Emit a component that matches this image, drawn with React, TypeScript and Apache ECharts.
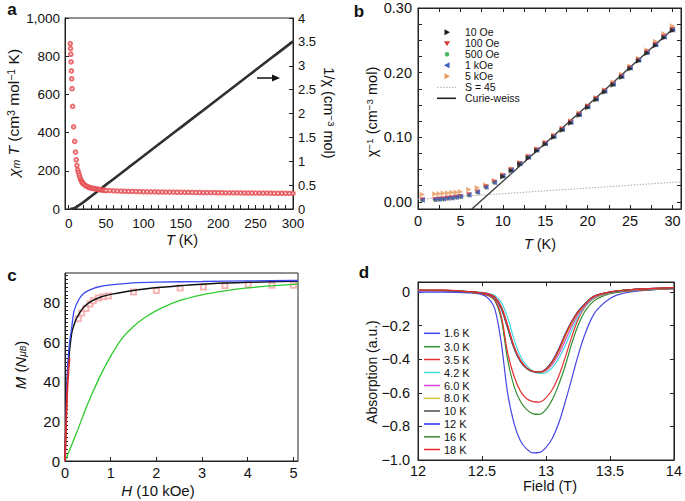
import React, { useEffect, useRef } from "react";
import * as echarts from "echarts";

const FONT = '"Liberation Sans", Arial, Helvetica, sans-serif';

// ---------------- Panel a ----------------
const aRedT = [2, 2.4, 2.8, 3.2, 3.6, 4, 4.5, 5.2, 6.5, 8, 9, 10, 11, 12, 13, 14, 15, 16, 17, 18, 19, 20, 22, 24, 26, 28, 30, 32, 34, 36, 38, 40, 42, 44, 46, 48, 50, 55, 60, 65, 70, 75, 80, 85, 90, 95, 100, 105, 110, 115, 120, 125, 130, 135, 140, 145, 150, 155, 160, 165, 170, 175, 180, 185, 190, 195, 200, 205, 210, 215, 220, 225, 230, 235, 240, 245, 250, 255, 260, 265, 270, 275, 280, 285, 290, 295, 300];
const aRedChiT = [866, 840, 810, 770, 723, 682, 630, 537, 430, 354, 298, 258, 228, 205, 192, 178, 165, 154, 146, 140, 135, 130, 124, 119, 115, 112, 110, 108, 106.5, 105, 104, 102.5, 101, 100, 99, 98, 97, 96, 95, 94, 93.5, 93, 92.5, 92, 91.5, 91, 90.5, 90, 89.8, 89.5, 89, 88.8, 88.5, 88.2, 88, 87.7, 87.5, 87.2, 87, 86.8, 86.5, 86.3, 86, 85.8, 85.6, 85.4, 85.2, 85, 84.8, 84.6, 84.5, 84.3, 84.1, 84, 83.8, 83.6, 83.5, 83.3, 83.1, 83, 82.8, 82.6, 82.5, 82.3, 82.2, 82.1, 82];
const aBlackT = [2, 3, 4, 5, 6, 7, 8, 9, 10, 12, 14, 16, 18, 20, 25, 30, 40, 50, 60, 70, 80, 90, 100, 110, 120, 130, 140, 150, 160, 170, 180, 190, 200, 210, 220, 230, 240, 250, 260, 270, 280, 290, 300];
const aInvChi = [0.004, 0.005, 0.006, 0.008, 0.012, 0.018, 0.024, 0.031, 0.04, 0.059, 0.08, 0.101, 0.123, 0.147, 0.207, 0.268, 0.389, 0.51, 0.63, 0.75, 0.871, 0.99, 1.11, 1.23, 1.35, 1.47, 1.59, 1.71, 1.83, 1.95, 2.07, 2.19, 2.31, 2.43, 2.55, 2.67, 2.79, 2.91, 3.03, 3.15, 3.27, 3.39, 3.51];
const aXLabels = [0, 50, 100, 150, 200, 250, 300];
const aLeftLabels = [0, 200, 400, 600, 800, 1000];
const aRightLabels = [0, 0.5, 1, 1.5, 2, 2.5, 3, 3.5, 4];

// ---------------- Panel b ----------------
const bT = [0.5, 2, 2.5, 3, 3.5, 4, 4.5, 5, 6, 7, 8, 9, 10, 11, 12, 13, 14, 15, 16, 17, 18, 19, 20, 21, 22, 23, 24, 25, 26, 27, 28, 29, 30];
const b5k = [0.0113, 0.0124, 0.0126, 0.0134, 0.0139, 0.0144, 0.0149, 0.0155, 0.019, 0.022, 0.026, 0.033, 0.042, 0.051, 0.061, 0.071, 0.082, 0.092, 0.103, 0.114, 0.125, 0.137, 0.149, 0.161, 0.173, 0.185, 0.197, 0.21, 0.222, 0.235, 0.248, 0.26, 0.272];
const b1k = [0.003, 0.0036, 0.004, 0.0046, 0.0057, 0.0062, 0.0072, 0.0082, 0.0108, 0.015, 0.0227, 0.03, 0.04, 0.049, 0.059, 0.069, 0.08, 0.09, 0.101, 0.112, 0.123, 0.135, 0.147, 0.159, 0.171, 0.182, 0.194, 0.207, 0.219, 0.231, 0.243, 0.255, 0.266];
const b500 = [0.0028, 0.0034, 0.0038, 0.0044, 0.0055, 0.006, 0.007, 0.008, 0.0105, 0.0148, 0.0225, 0.0298, 0.0398, 0.049, 0.059, 0.069, 0.08, 0.09, 0.101, 0.112, 0.123, 0.135, 0.147, 0.159, 0.171, 0.182, 0.194, 0.207, 0.219, 0.231, 0.243, 0.255, 0.266];
const b100 = [0.0029, 0.0035, 0.0039, 0.0045, 0.0056, 0.0061, 0.0071, 0.0081, 0.0106, 0.0149, 0.0226, 0.0299, 0.0399, 0.0492, 0.0592, 0.0692, 0.0802, 0.0902, 0.1012, 0.1122, 0.1232, 0.1352, 0.1472, 0.1592, 0.1712, 0.1822, 0.1942, 0.2072, 0.2192, 0.2312, 0.2432, 0.2552, 0.2665];
const b10T = [10, 11, 12, 13, 14, 15, 16, 17, 18, 19, 20, 21, 22, 23, 24, 25, 26, 27, 28, 29, 30];
const b10 = [0.039, 0.048, 0.058, 0.068, 0.079, 0.089, 0.1, 0.111, 0.122, 0.134, 0.146, 0.158, 0.17, 0.181, 0.193, 0.206, 0.218, 0.23, 0.242, 0.254, 0.265];
const bCurieT = [6.35, 30];
const bCurie = [-0.011, 0.267];
const bS45T = [0, 31];
const bS45 = [0.004, 0.031];
const bXLabels = [0, 5, 10, 15, 20, 25, 30];
const bYLabels = [0, 0.1, 0.2, 0.3];
const bLegend = ["10 Oe", "100 Oe", "500 Oe", "1 kOe", "5 kOe", "S = 45", "Curie-weiss"];

// ---------------- Panel c ----------------
const cBlueH = [0, 0.02, 0.05, 0.08, 0.1, 0.15, 0.2, 0.3, 0.4, 0.5, 0.7, 1, 1.5, 2, 3, 4, 5, 5.1];
const cBlueM = [0, 20, 45, 55, 60, 68, 76, 81.5, 84.5, 86, 87.8, 89, 90, 90.4, 90.7, 91, 91.2, 91.2];
const cBlackH = [0, 0.02, 0.05, 0.08, 0.1, 0.15, 0.2, 0.25, 0.3, 0.4, 0.5, 0.6, 0.8, 1, 1.35, 1.7, 2.1, 2.5, 2.8, 3.5, 4, 5, 5.1];
const cBlackM = [0, 18, 40, 50, 56, 65, 69, 72, 74, 77.5, 79.5, 81, 83, 84.2, 85.7, 86.8, 87.8, 88.5, 89.1, 90, 90.3, 90.8, 90.8];
const cGreenH = [0, 0.1, 0.25, 0.5, 0.75, 1, 1.25, 1.5, 1.75, 2, 2.5, 3, 3.5, 4, 4.5, 5, 5.1];
const cGreenM = [0, 5.5, 14, 29, 42, 53, 62, 68, 72.5, 76, 81, 84, 86, 87.5, 88.5, 89.3, 89.5];
const cRedH = [0, 0.01, 0.02, 0.03, 0.04, 0.06, 0.08, 0.1];
const cRedM = [0, 8, 15, 23, 30, 40, 47, 52];
const cSqH = [0.29, 0.365, 0.46, 0.55, 0.62, 0.73, 0.84, 0.95, 1.5, 2.0, 2.52, 3.03, 3.5, 4.01, 4.53, 5.0];
const cSqM = [71.9, 74.8, 77, 79.3, 81, 82.4, 83, 83.4, 85.4, 86.2, 87.4, 87.9, 88.6, 89.1, 88.8, 88.8];
const cXLabels = [0, 1, 2, 3, 4, 5];
const cYLabels = [0, 20, 40, 60, 80];

// ---------------- Panel d ----------------
const dField = [12.0, 12.2, 12.4, 12.5, 12.55, 12.6, 12.65, 12.7, 12.75, 12.8, 12.85, 12.9, 12.95, 13.0, 13.05, 13.1, 13.15, 13.2, 13.25, 13.3, 13.35, 13.4, 13.5, 13.6, 13.8, 14.0];
const d1_6 = [0.0, 0.0, -0.005, -0.015, -0.038, -0.1, -0.3, -0.6, -0.78, -0.885, -0.935, -0.958, -0.955, -0.925, -0.87, -0.78, -0.655, -0.52, -0.38, -0.26, -0.167, -0.105, -0.038, -0.008, 0.012, 0.02];
const d3_0 = [0.01, 0.008, 0.0, -0.01, -0.02, -0.05, -0.16, -0.4, -0.56, -0.65, -0.7, -0.725, -0.728, -0.7, -0.64, -0.55, -0.44, -0.31, -0.2, -0.12, -0.07, -0.04, -0.01, 0.003, 0.013, 0.02];
const d3_5 = [0.01, 0.008, 0.0, -0.01, -0.02, -0.045, -0.14, -0.36, -0.5, -0.59, -0.635, -0.652, -0.655, -0.63, -0.58, -0.5, -0.39, -0.27, -0.165, -0.095, -0.052, -0.028, -0.005, 0.005, 0.015, 0.02];
const d4_2 = [0.01, 0.01, 0.003, -0.002, -0.008, -0.02, -0.06, -0.15, -0.28, -0.38, -0.44, -0.472, -0.485, -0.48, -0.45, -0.395, -0.32, -0.23, -0.15, -0.09, -0.05, -0.025, -0.003, 0.008, 0.018, 0.024];
const d6_0 = [0.01, 0.01, 0.002, -0.004, -0.01, -0.028, -0.085, -0.195, -0.32, -0.405, -0.452, -0.472, -0.477, -0.468, -0.43, -0.37, -0.29, -0.205, -0.135, -0.085, -0.045, -0.022, -0.002, 0.009, 0.019, 0.025];
const d8_0 = [0.01, 0.01, 0.002, -0.005, -0.012, -0.03, -0.09, -0.2, -0.325, -0.408, -0.454, -0.473, -0.477, -0.464, -0.42, -0.355, -0.268, -0.19, -0.125, -0.08, -0.04, -0.02, 0.0, 0.01, 0.02, 0.025];
const d10 = [0.01, 0.01, 0.002, -0.005, -0.012, -0.03, -0.09, -0.205, -0.33, -0.41, -0.455, -0.474, -0.476, -0.46, -0.415, -0.345, -0.256, -0.18, -0.12, -0.077, -0.038, -0.018, 0.0, 0.01, 0.02, 0.025];
const d12 = [0.008, 0.008, 0.001, -0.006, -0.014, -0.035, -0.1, -0.215, -0.335, -0.413, -0.456, -0.474, -0.476, -0.458, -0.41, -0.338, -0.25, -0.175, -0.115, -0.073, -0.036, -0.017, 0.0, 0.01, 0.02, 0.025];
const d16 = [0.01, 0.01, 0.002, -0.005, -0.013, -0.033, -0.095, -0.21, -0.332, -0.41, -0.455, -0.474, -0.477, -0.46, -0.413, -0.342, -0.253, -0.178, -0.118, -0.075, -0.037, -0.018, 0.0, 0.01, 0.02, 0.025];
const d18 = [0.012, 0.012, 0.003, -0.004, -0.011, -0.03, -0.088, -0.2, -0.325, -0.407, -0.453, -0.473, -0.476, -0.46, -0.415, -0.345, -0.257, -0.18, -0.12, -0.077, -0.038, -0.018, 0.001, 0.011, 0.021, 0.026];
const dNames = ["1.6 K", "3.0 K", "3.5 K", "4.2 K", "6.0 K", "8.0 K", "10 K", "12 K", "16 K", "18 K"];
const dColors = ["#4646e6", "#2f8f2f", "#e23232", "#44dada", "#d640d6", "#d8c83a", "#4a4a4a", "#2d2dff", "#3a8a3a", "#f02828"];
const dValues = [d1_6, d3_0, d3_5, d4_2, d6_0, d8_0, d10, d12, d16, d18];
const dXLabels = [12, 12.5, 13, 13.5, 14];
const dYLabels = [-1, -0.8, -0.6, -0.4, -0.2, 0];

const zip = (xs: number[], ys: number[]) => xs.map((x, i) => [x, ys[i]]);
const steps = (a: number, b: number, s: number) => {
  const out: number[] = [];
  for (let v = a; v <= b + 1e-9; v += s) out.push(Math.round(v * 1000) / 1000);
  return out;
};

const LC = "#222";
function vAxis(o: any) {
  const { labels, ticks, labelSize = 14, margin = 6, formatter, showLabels = true, tickLen = 4, ...rest } = o;
  const axisLabel: any = { show: showLabels, color: "#111", fontSize: labelSize, fontFamily: FONT, margin };
  if (labels) axisLabel.customValues = labels;
  if (formatter) axisLabel.formatter = formatter;
  const axisTick: any = { show: true, inside: true, length: tickLen, lineStyle: { color: LC, width: 1 } };
  if (ticks) axisTick.customValues = ticks;
  return {
    type: "value",
    ...rest,
    axisLine: { show: true, onZero: false, lineStyle: { color: LC, width: 1 } },
    axisTick,
    axisLabel,
    splitLine: { show: false },
  };
}

function text(x: number, y: number, t: string, size: number, extra: any = {}) {
  const { rotation = 0, weight = "normal", rich, style = {} } = extra;
  return {
    type: "text",
    x,
    y,
    rotation,
    silent: true,
    z: 100,
    style: {
      text: t,
      x: 0,
      y: 0,
      fill: "#111",
      fontSize: size,
      fontFamily: FONT,
      fontWeight: weight,
      textAlign: "center",
      textVerticalAlign: "middle",
      align: "center",
      verticalAlign: "middle",
      ...(rich ? { rich } : {}),
      ...style,
    },
  };
}

function richSet(size: number) {
  return {
    i: { fontStyle: "italic", fontSize: size, fontFamily: FONT, fill: "#111" },
    sup: { fontSize: size * 0.68, fontFamily: FONT, fill: "#111", verticalAlign: "top" },
    sub: { fontSize: size * 0.68, fontFamily: FONT, fill: "#111", verticalAlign: "bottom" },
    subi: { fontSize: size * 0.68, fontStyle: "italic", fontFamily: FONT, fill: "#111", verticalAlign: "bottom" },
    sub2: { fontSize: size * 0.55, fontStyle: "italic", fontFamily: FONT, fill: "#111", verticalAlign: "bottom" },
  };
}

function buildOption() {
  const grid = [
    { left: 65, top: 18, width: 228, height: 191 },
    { left: 418, top: 8, width: 263, height: 201 },
    { left: 65, top: 273, width: 233, height: 188 },
    { left: 418, top: 282, width: 260, height: 178 },
  ].map((g) => ({ ...g, show: true, borderColor: LC, borderWidth: 1, backgroundColor: "transparent" }));

  const xAxis = [
    vAxis({ gridIndex: 0, min: -5, max: 300, labels: aXLabels, ticks: steps(0, 300, 10), labelSize: 13.5, margin: 7 }),
    vAxis({ gridIndex: 1, min: 0, max: 31, labels: bXLabels, ticks: steps(0, 30, 2.5), labelSize: 14.5, margin: 4 }),
    vAxis({ gridIndex: 1, position: "top", min: 0, max: 31, ticks: steps(0, 30, 2.5), labels: bXLabels, showLabels: false }),
    vAxis({ gridIndex: 2, min: 0, max: 5.1, labels: cXLabels, ticks: cXLabels, labelSize: 14.5, margin: 4 }),
    vAxis({ gridIndex: 3, min: 12, max: 14, labels: dXLabels, ticks: dXLabels, labelSize: 14.5, margin: 3, formatter: (v: number) => String(v) }),
    vAxis({ gridIndex: 3, position: "top", min: 12, max: 14, labels: dXLabels, ticks: dXLabels, showLabels: false }),
  ];
  const yAxis = [
    vAxis({ gridIndex: 0, min: 0, max: 1000, labels: aLeftLabels, ticks: aLeftLabels, labelSize: 13.5, margin: 5, formatter: (v: number) => (v === 1000 ? "1,000" : String(v)) }),
    vAxis({ gridIndex: 0, position: "right", min: 0, max: 4, labels: aRightLabels, ticks: aRightLabels, labelSize: 13, margin: 5 }),
    vAxis({ gridIndex: 1, min: -0.011, max: 0.3, labels: bYLabels, ticks: steps(0, 0.3, 0.025), labelSize: 14.5, margin: 6, formatter: (v: number) => v.toFixed(2) }),
    vAxis({ gridIndex: 1, position: "right", min: -0.011, max: 0.3, labels: bYLabels, ticks: steps(0, 0.3, 0.025), showLabels: false }),
    vAxis({ gridIndex: 2, min: 0, max: 95, labels: cYLabels, ticks: steps(0, 94, 2), tickLen: 3, labelSize: 15, margin: 5 }),
    vAxis({ gridIndex: 3, min: -1, max: 0.06, labels: dYLabels, ticks: dYLabels, labelSize: 14.5, margin: 8, formatter: (v: number) => (Math.abs(v) < 1e-9 ? "0" : "\u2212" + Math.abs(v).toFixed(1)) }),
    vAxis({ gridIndex: 3, position: "right", min: -1, max: 0.06, labels: dYLabels, ticks: dYLabels, showLabels: false }),
  ];

  const series: any[] = [];
  // panel a
  series.push({
    type: "line", xAxisIndex: 0, yAxisIndex: 1, data: zip(aBlackT, aInvChi), showSymbol: false,
    lineStyle: { color: "#303030", width: 2.6 }, z: 2,
  });
  series.push({
    type: "scatter", xAxisIndex: 0, yAxisIndex: 0, data: zip(aRedT, aRedChiT), symbol: "emptyCircle", symbolSize: 3.6,
    itemStyle: { color: "#e5484e", borderColor: "#e5484e", borderWidth: 0.9, opacity: 0.8 }, z: 3,
  });
  // panel b
  series.push({ type: "line", xAxisIndex: 1, yAxisIndex: 2, data: zip(bS45T, bS45), showSymbol: false, lineStyle: { color: "#b0b0b0", width: 1.1, type: [1.5, 1.5] }, z: 1 });
  series.push({ type: "line", xAxisIndex: 1, yAxisIndex: 2, data: zip(bCurieT, bCurie), showSymbol: false, lineStyle: { color: "#3a3a3a", width: 1.4 }, z: 1 });
  const bSc = (data: number[][], color: string, symbol: string, rot: number, size = 5.5) => ({
    type: "scatter", xAxisIndex: 1, yAxisIndex: 2, data, symbol, symbolRotate: rot, symbolSize: size, itemStyle: { color }, z: 3,
  });
  series.push(bSc(zip(bT, b5k), "#e59a5e", "triangle", -90));
  series.push(bSc(zip(bT, b500), "#4cba6a", "circle", 0, 4.5));
  series.push(bSc(zip(bT, b100), "#d53a3a", "triangle", 180));
  series.push(bSc(zip(bT, b1k), "#3d5cc0", "triangle", 90));
  series.push(bSc(zip(b10T, b10), "#1a1a1a", "triangle", -90));
  // panel c
  series.push({ type: "scatter", xAxisIndex: 3, yAxisIndex: 4, data: zip(cSqH, cSqM), symbol: "emptyRect", symbolSize: 5, itemStyle: { color: "#f2a3a3", borderColor: "#f2a3a3", borderWidth: 0.9 }, z: 2 });
  series.push({ type: "line", xAxisIndex: 3, yAxisIndex: 4, data: zip(cGreenH, cGreenM), smooth: 0.3, showSymbol: false, lineStyle: { color: "#2fcc2f", width: 1.3 }, z: 3 });
  series.push({ type: "line", xAxisIndex: 3, yAxisIndex: 4, data: zip(cBlackH, cBlackM), smooth: 0.3, showSymbol: false, lineStyle: { color: "#111", width: 1.5 }, z: 3 });
  series.push({ type: "line", xAxisIndex: 3, yAxisIndex: 4, data: zip(cBlueH, cBlueM), smooth: 0.3, showSymbol: false, lineStyle: { color: "#3a4af0", width: 1.3 }, z: 3 });
  series.push({ type: "line", xAxisIndex: 3, yAxisIndex: 4, data: zip(cRedH, cRedM), showSymbol: false, lineStyle: { color: "#e02a2a", width: 1.8 }, z: 4 });
  // panel d
  dValues.forEach((vals, i) => {
    series.push({
      type: "line", xAxisIndex: 4, yAxisIndex: 5, data: zip(dField, vals), smooth: 0.35, showSymbol: false,
      lineStyle: { color: dColors[i], width: 1.2 }, z: 3,
    });
  });

  const graphic: any[] = [];
  // panel letters
  graphic.push(text(12, 9, "a", 17, { weight: "bold" }));
  graphic.push(text(359, 11, "b", 17, { weight: "bold" }));
  graphic.push(text(12, 275, "c", 17, { weight: "bold" }));
  graphic.push(text(364, 272, "d", 17, { weight: "bold" }));
  // axis titles a
  graphic.push(text(13, 113, "{i|\u03c7}{subi|m} {i|T} (cm{sup|3} mol{sup|\u22121} K)", 15.5, { rotation: Math.PI / 2, rich: richSet(15.5) }));
  graphic.push(text(329, 113, "1/\u03c7 (cm{sup|\u22123} mol)", 14.5, { rotation: -Math.PI / 2, rich: richSet(14.5) }));
  graphic.push(text(182, 240, "{i|T} (K)", 14.5, { rich: richSet(14.5) }));
  // arrow a
  graphic.push({ type: "line", silent: true, z: 100, shape: { x1: 257, y1: 78, x2: 275, y2: 78 }, style: { stroke: "#111", lineWidth: 1.5 } });
  graphic.push({ type: "polygon", silent: true, z: 100, shape: { points: [[280, 78], [272, 74.5], [272, 81.5]] }, style: { fill: "#111" } });
  // axis titles b
  graphic.push(text(372, 112, "\u03c7{sup|\u22121} (cm{sup|\u22123} mol)", 14.5, { rotation: Math.PI / 2, rich: richSet(14.5) }));
  graphic.push(text(540, 244, "{i|T} (K)", 14.5, { rich: richSet(14.5) }));
  // legend b
  const bRows = [32.3, 43.3, 54.3, 65.3, 76.3, 87.3, 98.3];
  const mx = 447;
  graphic.push({ type: "polygon", silent: true, z: 100, shape: { points: [[mx + 3, bRows[0]], [mx - 2.5, bRows[0] - 3], [mx - 2.5, bRows[0] + 3]] }, style: { fill: "#1a1a1a" } });
  graphic.push({ type: "polygon", silent: true, z: 100, shape: { points: [[mx - 3, bRows[1] - 2], [mx + 3, bRows[1] - 2], [mx, bRows[1] + 3]] }, style: { fill: "#d53a3a" } });
  graphic.push({ type: "circle", silent: true, z: 100, shape: { cx: mx, cy: bRows[2], r: 2.3 }, style: { fill: "#4cba6a" } });
  graphic.push({ type: "polygon", silent: true, z: 100, shape: { points: [[mx - 3, bRows[3]], [mx + 2.5, bRows[3] - 3], [mx + 2.5, bRows[3] + 3]] }, style: { fill: "#3d5cc0" } });
  graphic.push({ type: "polygon", silent: true, z: 100, shape: { points: [[mx + 3, bRows[4]], [mx - 2.5, bRows[4] - 3], [mx - 2.5, bRows[4] + 3]] }, style: { fill: "#e59a5e" } });
  graphic.push({ type: "line", silent: true, z: 100, shape: { x1: 437, y1: bRows[5], x2: 456, y2: bRows[5] }, style: { stroke: "#a8a8a8", lineWidth: 1, lineDash: [1.5, 1.5] } });
  graphic.push({ type: "line", silent: true, z: 100, shape: { x1: 437, y1: bRows[6], x2: 456, y2: bRows[6] }, style: { stroke: "#222", lineWidth: 1.6 } });
  bLegend.forEach((t, i) => {
    graphic.push(text(465, bRows[i], t, 10.5, { style: { textAlign: "left", align: "left" } }));
  });
  // axis titles c
  graphic.push(text(20, 365, "{i|M} ({i|N}{subi|\u03bc}{sub2|B})", 15, { rotation: Math.PI / 2, rich: richSet(15) }));
  graphic.push(text(158, 490, "{i|H} (10 kOe)", 15, { rich: richSet(15) }));
  // axis titles d
  graphic.push(text(372, 372, "Absorption (a.u.)", 14, { rotation: Math.PI / 2 }));
  graphic.push(text(550, 486, "Field (T)", 14.5));
  // legend d
  const dRows = [333.3, 346.7, 359.5, 372.5, 385.5, 398.3, 411, 424, 436.8, 449.5];
  dNames.forEach((t, i) => {
    graphic.push({ type: "line", silent: true, z: 100, shape: { x1: 424, y1: dRows[i], x2: 440, y2: dRows[i] }, style: { stroke: dColors[i], lineWidth: 1.5 } });
    graphic.push(text(444, dRows[i], t, 11, { style: { textAlign: "left", align: "left" } }));
  });

  return {
    animation: false,
    backgroundColor: "#fff",
    textStyle: { fontFamily: FONT },
    grid,
    xAxis,
    yAxis,
    series,
    graphic,
  };
}

export default function App() {
  const ref = useRef<HTMLDivElement>(null);
  useEffect(() => {
    if (!ref.current) return;
    const chart = echarts.init(ref.current, null, { renderer: "svg" });
    chart.setOption(buildOption() as any);
    return () => chart.dispose();
  }, []);
  return (
    <div
      ref={ref}
      style={{ position: "absolute", left: 0, top: 0, width: 685, height: 501, background: "#fff" }}
    />
  );
}
